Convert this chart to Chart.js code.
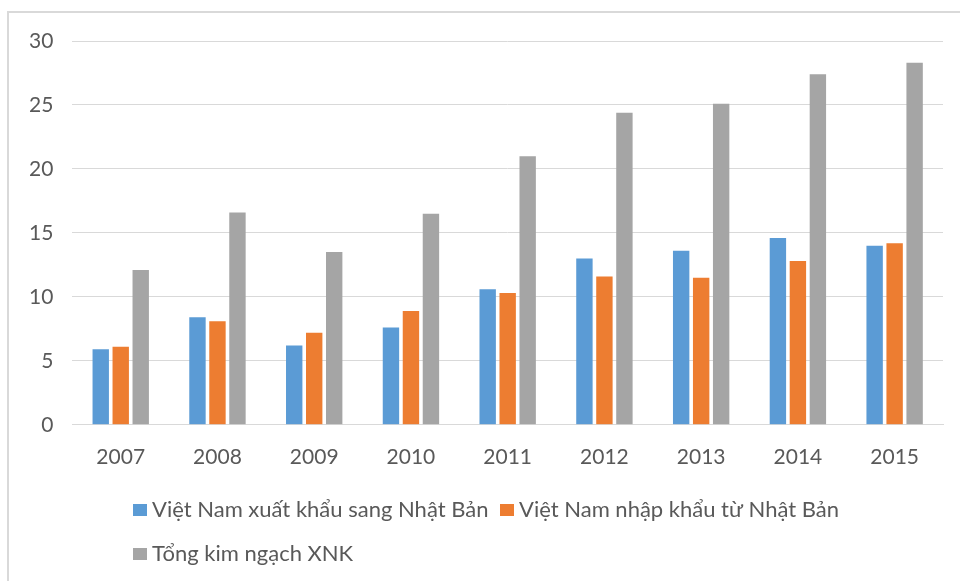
<!DOCTYPE html>
<html>
<head>
<meta charset="utf-8">
<title>Xuất nhập khẩu Việt Nam - Nhật Bản</title>
<script src="https://cdn.jsdelivr.net/npm/chart.js@4.4.1/dist/chart.umd.min.js"></script>
<style>
    html, body { margin: 0; padding: 0; background: #fff; }
    #wrap { width: 960px; height: 581px; position: relative; }
</style>
</head>
<body>
<div id="wrap"><canvas id="tradeChart" width="960" height="581"></canvas></div>
<script>
// Data
const years = ['2007', '2008', '2009', '2010', '2011', '2012', '2013', '2014', '2015'];
const exportVals = [5.9, 8.4, 6.2, 7.6, 10.6, 13.0, 13.6, 14.6, 14.0];
const importVals = [6.1, 8.1, 7.2, 8.9, 10.3, 11.6, 11.5, 12.8, 14.2];
const totalVals = [12.1, 16.6, 13.5, 16.5, 21.0, 24.4, 25.1, 27.4, 28.3];
const seriesNames = ['Việt Nam xuất khẩu sang Nhật Bản', 'Việt Nam nhập khẩu từ Nhật Bản', 'Tổng kim ngạch XNK'];
const seriesColors = ['#5B9BD5', '#ED7D31', '#A5A5A5'];

const textColor = '#595959';
const fontFamily = 'Lato, "Noto Sans", sans-serif';

// Outer frame (left and top edges only, like the screenshot)
const framePlugin = {
    id: 'frame',
    beforeDraw(chart) {
        const ctx = chart.ctx;
        ctx.save();
        ctx.strokeStyle = '#d9d9d9';
        ctx.lineWidth = 2;
        ctx.beginPath();
        ctx.moveTo(8, 581);
        ctx.lineTo(8, 12);
        ctx.lineTo(960, 12);
        ctx.stroke();
        ctx.restore();
    }
};

// Legend laid out in two rows, Excel style
const legendPlugin = {
    id: 'xlLegend',
    afterDraw(chart) {
        const ctx = chart.ctx;
        const slots = [
            { x: 133, y: 510 },
            { x: 500, y: 510 },
            { x: 133, y: 554 }
        ];
        ctx.save();
        ctx.font = '22px ' + fontFamily;
        ctx.textBaseline = 'middle';
        chart.data.datasets.forEach((ds, i) => {
            const s = slots[i];
            ctx.fillStyle = ds.backgroundColor;
            ctx.fillRect(s.x, s.y - 6, 14, 12);
            ctx.fillStyle = textColor;
            ctx.fillText(ds.label, s.x + 19, s.y);
        });
        ctx.restore();
    }
};

const ctx = document.getElementById('tradeChart').getContext('2d');

const tradeChart = new Chart(ctx, {
    type: 'bar',
    data: {
        labels: years,
        datasets: [
            { label: seriesNames[0], data: exportVals, backgroundColor: seriesColors[0] },
            { label: seriesNames[1], data: importVals, backgroundColor: seriesColors[1] },
            { label: seriesNames[2], data: totalVals, backgroundColor: seriesColors[2] }
        ]
    },
    options: {
        responsive: false,
        animation: false,
        datasets: {
            bar: {
                categoryPercentage: 0.62,
                barPercentage: 0.82
            }
        },
        layout: {
            padding: { left: 10, right: 17, top: 41, bottom: 99 }
        },
        plugins: {
            legend: { display: false },
            tooltip: { enabled: false }
        },
        scales: {
            x: {
                grid: { display: false },
                border: { color: '#d9d9d9', width: 1 },
                ticks: {
                    color: textColor,
                    font: { family: fontFamily, size: 21 },
                    padding: 12,
                    maxRotation: 0
                }
            },
            y: {
                min: 0,
                max: 30,
                grid: { color: '#d9d9d9', lineWidth: 1, drawTicks: false },
                border: { display: false },
                ticks: {
                    stepSize: 5,
                    color: textColor,
                    font: { family: fontFamily, size: 21 },
                    padding: 19
                }
            }
        }
    },
    plugins: [framePlugin, legendPlugin]
});
</script>
</body>
</html>
